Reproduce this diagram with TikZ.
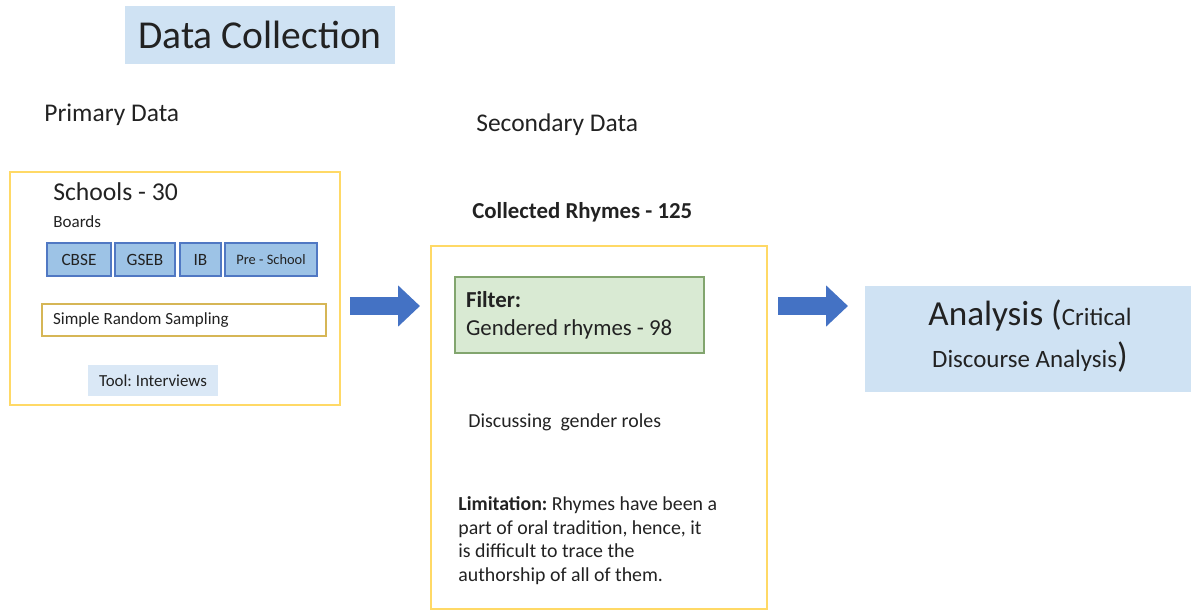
\documentclass[tikz,border=0pt]{standalone}
\usepackage{fontspec}
\setmainfont{Carlito}
\usepackage{tikz}
\usetikzlibrary{arrows.meta}
\frenchspacing

\definecolor{paleblue}{RGB}{207,226,243}
\definecolor{toolblue}{RGB}{218,232,246}
\definecolor{boardfill}{RGB}{157,195,230}
\definecolor{boardline}{RGB}{80,120,195}
\definecolor{goldline}{RGB}{255,217,102}
\definecolor{tanline}{RGB}{214,182,86}
\definecolor{filterfill}{RGB}{217,234,211}
\definecolor{filterline}{RGB}{130,165,110}
\definecolor{arrowblue}{RGB}{68,114,196}
\definecolor{inkgray}{RGB}{34,34,34}

\begin{document}
\begin{tikzpicture}[x=0.02cm, y=-0.02cm,
    every node/.style={text=inkgray},
    txt/.style={inner sep=0pt, anchor=west},
    panel/.style={draw=goldline, line width=1.2pt},
    board/.style={draw=boardline, fill=boardfill, line width=0.8pt, minimum height=0.66cm,
        inner sep=0pt, font=\fontsize{9.8}{11}\selectfont},
    bigarrow/.style={arrowblue, line width=0.36cm, -{Triangle[length=0.44cm, width=0.8cm]}}]
    \useasboundingbox (0,0) rectangle (1191,610);
    % Draw the title
    \node[fill=paleblue, minimum width=5.4cm, minimum height=1.16cm, inner sep=0pt,
        font=\fontsize{22.5}{26}\selectfont] (title) at (260,35) {Data Collection};
    % Draw the two headings
    \node[txt, font=\fontsize{14.5}{17}\selectfont] (primlbl) at (44,115) {Primary Data};
    \node[txt, font=\fontsize{14.5}{17}\selectfont] (seclbl) at (476,125) {Secondary Data};
    % Draw the primary data panel
    \node[panel, minimum width=6.6cm, minimum height=4.66cm] (primary) at (175,288.5) {};
    \node[txt, font=\fontsize{14.6}{17}\selectfont] (schools) at (53,192) {Schools - 30};
    \node[txt, font=\fontsize{9.7}{11}\selectfont] (boards) at (53,222) {Boards};
    % Draw the board boxes
    \foreach \cx/\w/\lbl/\nm in {79/1.28cm/CBSE/cbse, 145/1.2cm/GSEB/gseb, 200.5/0.82cm/IB/ib} {
        \node[board, minimum width=\w] (\nm) at (\cx,259.5) {\lbl};
    }
    \node[board, minimum width=1.84cm, font=\fontsize{8.2}{10}\selectfont] (preschool) at (271,259.5) {Pre - School};
    \node[draw=tanline, line width=0.8pt, fill=white, text width=5.24cm, align=flush left,
        inner xsep=0.22cm, inner ysep=0pt, minimum height=0.64cm,
        font=\fontsize{9.7}{11}\selectfont] (sampling) at (184,320) {Simple Random Sampling};
    \node[fill=toolblue, minimum width=2.6cm, minimum height=0.62cm, inner sep=0pt,
        font=\fontsize{9.6}{11}\selectfont] (tool) at (153,380.5) {Tool: Interviews};
    % Draw the secondary data panel
    \node[txt, font=\bfseries\fontsize{13}{15}\selectfont] (collected) at (472,212) {Collected Rhymes - 125};
    \node[panel, minimum width=6.72cm, minimum height=7.26cm] (secondary) at (599,427.5) {};
    \node[draw=filterline, line width=0.8pt, fill=filterfill, text width=4.54cm, align=flush left,
        inner xsep=0.22cm, inner ysep=0pt, minimum height=1.52cm,
        font=\fontsize{13}{16}\selectfont] (filter) at (579.5,315) {\textbf{Filter:}\\Gendered rhymes - 98};
    \node[txt, font=\fontsize{11.3}{13}\selectfont] (discuss) at (468,422) {Discussing\ \ gender roles};
    \node[txt, align=flush left, font=\fontsize{11.3}{13.4}\selectfont] (limit) at (458,540.5)
        {\textbf{Limitation:} Rhymes have been a\\part of oral tradition, hence, it\\is difficult to trace the\\authorship of all of them.};
    % Draw the analysis box
    \node[fill=paleblue, minimum width=6.52cm, minimum height=2.12cm, inner sep=0pt] (analysis) at (1028,339) {};
    \node[align=center, inner sep=0pt, font=\fontsize{14.2}{23.8}\selectfont] (analysistxt) at (1030,336)
        {{\fontsize{20}{23.8}\selectfont Analysis (}Critical\\Discourse Analysis{\fontsize{20}{23.8}\selectfont )}};
    % Add the block arrows
    \coordinate (a1s) at (350,306);
    \coordinate (a1e) at (420,306);
    \coordinate (a2s) at (778,306);
    \coordinate (a2e) at (848,306);
    \draw[bigarrow] (a1s) -- (a1e);
    \draw[bigarrow] (a2s) -- (a2e);
\end{tikzpicture}
\end{document}
